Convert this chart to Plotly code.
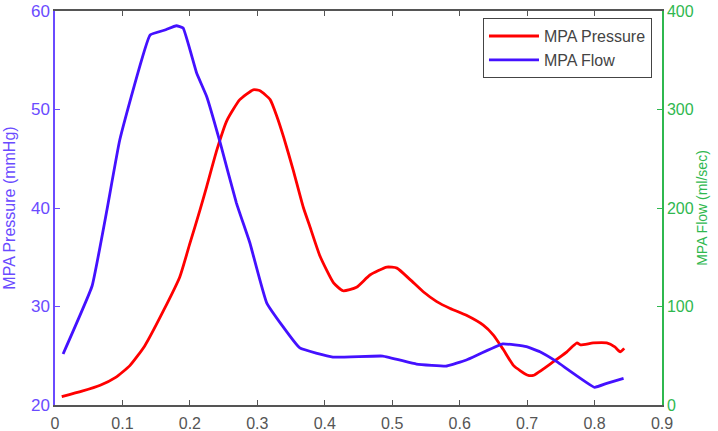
import plotly.graph_objects as go

# MPA Pressure (mmHg) vs time (s)
pressure_t = [0.010, 0.040, 0.067, 0.090, 0.111, 0.133, 0.161, 0.185, 0.200, 0.215,
              0.225, 0.240, 0.255, 0.274, 0.294, 0.304, 0.319, 0.329, 0.339, 0.353,
              0.368, 0.378, 0.393, 0.413, 0.427, 0.447, 0.467, 0.492, 0.507, 0.527,
              0.546, 0.566, 0.586, 0.610, 0.635, 0.650, 0.665, 0.680, 0.700, 0.709,
              0.739, 0.759, 0.774, 0.779, 0.798, 0.818, 0.830, 0.838, 0.844]
pressure_mmHg = [20.85, 21.4, 22.0, 22.8, 24.0, 26.0, 29.6, 33.0, 36.4, 39.8,
                 42.2, 45.9, 48.9, 51.0, 52.0, 51.9, 51.0, 49.3, 47.2, 43.9,
                 40.1, 38.1, 35.1, 32.4, 31.6, 31.95, 33.2, 34.0, 33.9, 32.7,
                 31.5, 30.5, 29.8, 29.1, 28.1, 27.1, 25.6, 24.0, 23.05, 23.0,
                 24.4, 25.4, 26.3, 26.1, 26.3, 26.3, 25.9, 25.4, 25.75]

# MPA Flow (ml/sec) vs time (s)
flow_t = [0.012, 0.055, 0.077, 0.096, 0.141, 0.163, 0.180, 0.190, 0.210, 0.225,
          0.245, 0.269, 0.289, 0.314, 0.363, 0.412, 0.486, 0.536, 0.581, 0.610,
          0.664, 0.699, 0.719, 0.744, 0.800, 0.818, 0.843]
flow_mls = [51.8, 120.8, 198.0, 269.0, 375.6, 380.7, 385.0, 382.7, 337.0, 313.0,
            266.0, 205.0, 164.5, 103.5, 57.9, 48.7, 49.7, 41.6, 39.6, 45.7,
            62.0, 59.2, 54.1, 44.0, 18.0, 22.0, 27.0]

x_ticks = [0, 0.1, 0.2, 0.3, 0.4, 0.5, 0.6, 0.7, 0.8, 0.9]
x_ticklabels = ["0", "0.1", "0.2", "0.3", "0.4", "0.5", "0.6", "0.7", "0.8", "0.9"]
p_ticks = [20, 30, 40, 50, 60]
f_ticks = [0, 100, 200, 300, 400]

PURPLE = "#6a4bff"
GREEN = "#2fb84f"
GRAY = "#555555"
FONT = "Liberation Sans, Arial, sans-serif"

fig = go.Figure()
fig.add_trace(go.Scatter(x=pressure_t, y=pressure_mmHg, name="MPA Pressure",
                         mode="lines", line=dict(color="#ff0000", width=2.8, shape="spline", smoothing=0.5),
                         yaxis="y"))
fig.add_trace(go.Scatter(x=flow_t, y=flow_mls, name="MPA Flow",
                         mode="lines", line=dict(color="#4411ff", width=2.8, shape="spline", smoothing=0.3),
                         yaxis="y2"))

fig.update_layout(
    width=718, height=431,
    margin=dict(l=55, r=56, t=11, b=26),
    paper_bgcolor="white", plot_bgcolor="white",
    font=dict(family=FONT, size=17, color="#555555"),
    showlegend=True,
    legend=dict(x=0.9835, y=0.982, xanchor="right", yanchor="top",
                bordercolor="#444444", borderwidth=1, bgcolor="white",
                font=dict(size=16, color="#444444"), tracegroupgap=0,
                itemwidth=50),
    xaxis=dict(range=[0, 0.9], tickvals=x_ticks, ticktext=x_ticklabels,
               ticks="inside", ticklen=5, tickcolor=GRAY, showline=True,
               linecolor=GRAY, linewidth=1.5, mirror="ticks", showgrid=False,
               zeroline=False, automargin=False, ticklabelstandoff=3,
               tickfont=dict(size=16, color="#555555")),
    yaxis=dict(range=[20, 60], tickvals=p_ticks, ticks="inside", ticklen=5,
               tickcolor=PURPLE, showline=True, linecolor=PURPLE, linewidth=1.5,
               showgrid=False, zeroline=False, automargin=False,
               tickfont=dict(size=17, color=PURPLE),
               title=dict(text="MPA Pressure (mmHg)", font=dict(size=16, color=PURPLE), standoff=11)),
    yaxis2=dict(range=[0, 400], tickvals=f_ticks, ticks="inside", ticklen=5,
                tickcolor=GREEN, showline=True, linecolor=GREEN, linewidth=1.5,
                overlaying="y", side="right", showgrid=False, zeroline=False,
                automargin=False,
                tickfont=dict(size=16, color=GREEN),
                title=dict(text="MPA Flow (ml/sec)", font=dict(size=14, color=GREEN), standoff=4)),
)

fig.write_html("out.html")
